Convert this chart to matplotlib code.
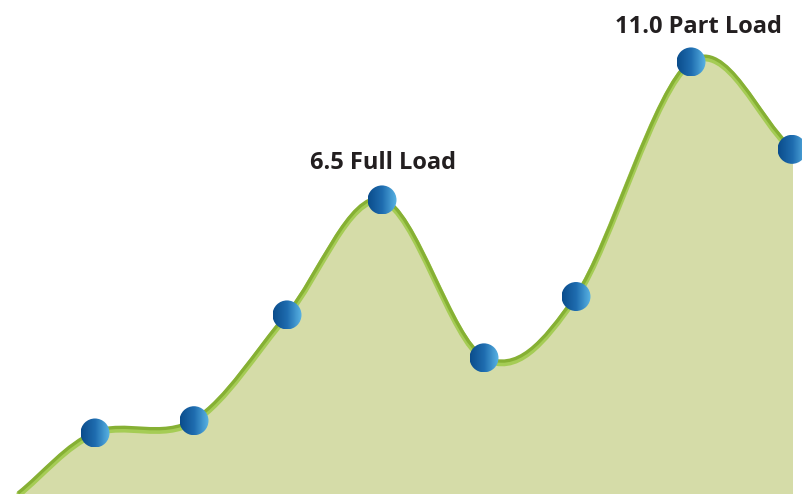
import matplotlib.pyplot as plt
import numpy as np
from matplotlib.path import Path
from matplotlib.patches import PathPatch, Ellipse
import matplotlib.transforms as mtransforms
from matplotlib.colors import LinearSegmentedColormap

# curve points (first one is the start of the curve, no marker)
x_pos = [0.18, 0.95, 1.94, 2.87, 3.82, 4.84, 5.76, 6.91, 7.92]
load = [-3.1, -1.1, -0.7, 2.75, 6.5, 1.35, 3.35, 11.0, 8.15]
label_idx = [4, 7]
label_text = ["6.5 Full Load", "11.0 Part Load"]

x_min, x_max = 0.0, 8.02
y_min, y_max = -3.09, 13.02


def smooth_path(xs, ys):
    # Catmull-Rom through the points, written as cubic Bezier segments
    p = np.column_stack([xs, ys]).astype(float)
    pts = np.vstack([2 * p[0] - p[1], p, 2 * p[-1] - p[-2]])
    verts = [tuple(p[0])]
    codes = [Path.MOVETO]
    for i in range(1, len(pts) - 2):
        c1 = pts[i] + (pts[i + 1] - pts[i - 1]) / 6
        c2 = pts[i + 1] - (pts[i + 2] - pts[i]) / 6
        verts += [tuple(c1), tuple(c2), tuple(pts[i + 1])]
        codes += [Path.CURVE4] * 3
    return verts, codes


fig = plt.figure(figsize=(8.02, 4.94), dpi=100)
ax = fig.add_axes([0, 0, 1, 1])
ax.set_xlim(x_min, x_max)
ax.set_ylim(y_min, y_max)
ax.axis('off')

verts, codes = smooth_path(x_pos, load)

# filled area under the curve
fill_verts = verts + [(x_pos[-1] + 0.01, load[-1]), (x_pos[-1] + 0.01, y_min - 1), (x_pos[0], y_min - 1), (0, 0)]
fill_codes = codes + [Path.LINETO, Path.LINETO, Path.LINETO, Path.CLOSEPOLY]
ax.add_patch(PathPatch(Path(fill_verts, fill_codes), facecolor='#d5dca8', edgecolor='none', zorder=1))

# two-tone green line: light band underneath, darker band on top
down = mtransforms.offset_copy(ax.transData, fig=fig, x=0, y=-1.0, units='dots')
up = mtransforms.offset_copy(ax.transData, fig=fig, x=0, y=1.3, units='dots')
ax.add_patch(PathPatch(Path(verts, codes), facecolor='none', edgecolor='#a5cc55', lw=4.2, zorder=2,
                       transform=down))
ax.add_patch(PathPatch(Path(verts, codes), facecolor='none', edgecolor='#86b034', lw=2.4, zorder=3,
                       transform=up))

# gradient ball markers
cmap = LinearSegmentedColormap.from_list('ball', ['#0b4d8c', '#1f6db0', '#5ab4e4'])
grad = np.tile(np.linspace(0, 1, 64), (16, 1))
rx = 14.5 * (x_max - x_min) / 802
ry = 14.5 * (y_max - y_min) / 494
for x, y in zip(x_pos[1:], load[1:]):
    ell = Ellipse((x, y), 2 * rx, 2 * ry, transform=ax.transData)
    im = ax.imshow(grad, cmap=cmap, extent=[x - rx, x + rx, y - ry, y + ry],
                   aspect='auto', zorder=4, interpolation='bilinear')
    im.set_clip_path(ell)

ax.set_xlim(x_min, x_max)
ax.set_ylim(y_min, y_max)

offsets = [(0.5, 22.3), (5, 21)]
for i, text, off in zip(label_idx, label_text, offsets):
    ax.annotate(text, (x_pos[i], load[i]), xytext=off, textcoords='offset points',
                ha='center', va='baseline', fontsize=17, fontweight='bold',
                family='Open Sans', color='#231f20', zorder=5)

fig.savefig('out.png', dpi=100)
